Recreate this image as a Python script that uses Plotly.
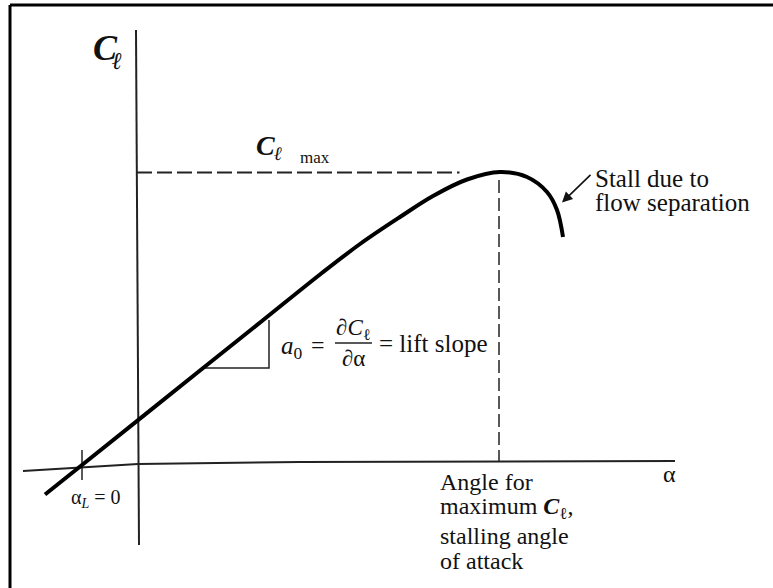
import plotly.graph_objects as go

W, H = 773, 588

# lift curve (alpha in deg, cl dimensionless)
alpha = [-3.68, -2.2, 2.52, 5.0, 7.32, 8.92, 10.52, 11.84, 13.2, 14.52, 15.6, 16.4, 16.8, 17.04]
cl = [-0.118, 0.0, 0.378, 0.576, 0.762, 0.884, 0.992, 1.076, 1.142, 1.172, 1.152, 1.092, 1.02, 0.912]

# axes drawn as in the scan (slightly tilted)
xaxis_a = [-4.56, 0.04, 6.52, 21.52]
xaxis_c = [-0.024, 0.004, 0.012, 0.016]
yaxis_a = [-0.04, 0.08]
yaxis_c = [1.74, -0.32]

alpha_l0 = -2.2
tick_c = [0.06, -0.06]

cl_max = 1.17
alpha_stall = 14.48
clmax_dash_a = [0.0, 12.9]
stall_dash_c = [1.14, 0.012]

# slope triangle
tri_a = [2.72, 5.28, 5.28]
tri_c = [0.388, 0.388, 0.58]

fig = go.Figure()

fig.add_trace(go.Scatter(x=xaxis_a, y=xaxis_c, mode='lines',
                         line=dict(color='#222', width=2)))
fig.add_trace(go.Scatter(x=yaxis_a, y=yaxis_c, mode='lines',
                         line=dict(color='#222', width=2)))
fig.add_trace(go.Scatter(x=[alpha_l0, alpha_l0], y=tick_c, mode='lines',
                         line=dict(color='#222', width=1.5)))
fig.add_trace(go.Scatter(x=clmax_dash_a, y=[cl_max, cl_max], mode='lines',
                         line=dict(color='#222', width=2.2, dash='15px,5px')))
fig.add_trace(go.Scatter(x=[alpha_stall, alpha_stall], y=stall_dash_c, mode='lines',
                         line=dict(color='#222', width=1.5, dash='13px,5px')))
fig.add_trace(go.Scatter(x=tri_a, y=tri_c, mode='lines',
                         line=dict(color='#222', width=1.5)))
fig.add_trace(go.Scatter(x=alpha, y=cl, mode='lines',
                         line=dict(color='black', width=4, shape='spline', smoothing=1.0)))


def P(x, y):
    return dict(x=x / W, y=1 - y / H, xref='paper', yref='paper')


SERIF = 'Liberation Serif'


def txt(x, y, s, size, xa='left', color='#111'):
    return dict(**P(x, y), text=s, showarrow=False, xanchor=xa, yanchor='middle',
                font=dict(family=SERIF, size=size, color=color))


ann = [
    txt(105, 48, '<b><i>C</i></b>', 36, 'center'),
    txt(117, 61, '<b><i>ℓ</i></b>', 24, 'center'),
    txt(265, 146, '<b><i>C</i></b>', 28, 'center'),
    txt(278, 154, '<b><i>ℓ</i></b>', 19, 'center'),
    txt(298, 157, 'max', 17),
    txt(593, 178, 'Stall due to', 25),
    txt(593, 202, 'flow separation', 25),
    txt(279, 347, '<i>a</i><sub>0</sub>', 25),
    txt(318, 345, '=', 24, 'center'),
    txt(353, 329, '∂<i>C</i><sub>ℓ</sub>', 23, 'center'),
    txt(353, 358, '∂α', 23, 'center'),
    txt(377, 343, '= lift slope', 25),
    txt(669, 474, 'α', 24, 'center'),
    txt(69, 498, 'α<sub><i>L</i></sub> = 0', 20),
    txt(438, 482, 'Angle for', 24),
    txt(438, 508, 'maximum <b><i>C</i></b><sub>ℓ</sub>,', 24),
    txt(438, 536, 'stalling angle', 24),
    txt(438, 561, 'of attack', 24),
    dict(x=17.0, y=1.05, xref='x', yref='y', text='', showarrow=True,
         ax=30, ay=-29, arrowhead=2, arrowsize=1.3, arrowwidth=1.6, arrowcolor='#111'),
]

shapes = [
    dict(type='line', xref='paper', yref='paper', x0=10 / W, x1=1.0, y0=1 - 5 / H, y1=1 - 5 / H,
         line=dict(color='black', width=3)),
    dict(type='line', xref='paper', yref='paper', x0=10 / W, x1=10 / W, y0=0, y1=1 - 5 / H,
         line=dict(color='black', width=3)),
    dict(type='line', xref='paper', yref='paper', x0=335 / W, x1=372 / W,
         y0=1 - 343 / H, y1=1 - 343 / H, line=dict(color='#222', width=1.5)),
]

fig.update_layout(
    width=W, height=H,
    margin=dict(l=0, r=0, t=0, b=0),
    showlegend=False,
    plot_bgcolor='white', paper_bgcolor='white',
    xaxis=dict(range=[-137 / 25, (W - 137) / 25], visible=False, fixedrange=True),
    yaxis=dict(range=[(465 - H) / 250, 465 / 250], visible=False, fixedrange=True),
    annotations=ann,
    shapes=shapes,
)

fig.write_html("out.html", config={'displayModeBar': False},
               post_script="document.body.style.margin='0';")
